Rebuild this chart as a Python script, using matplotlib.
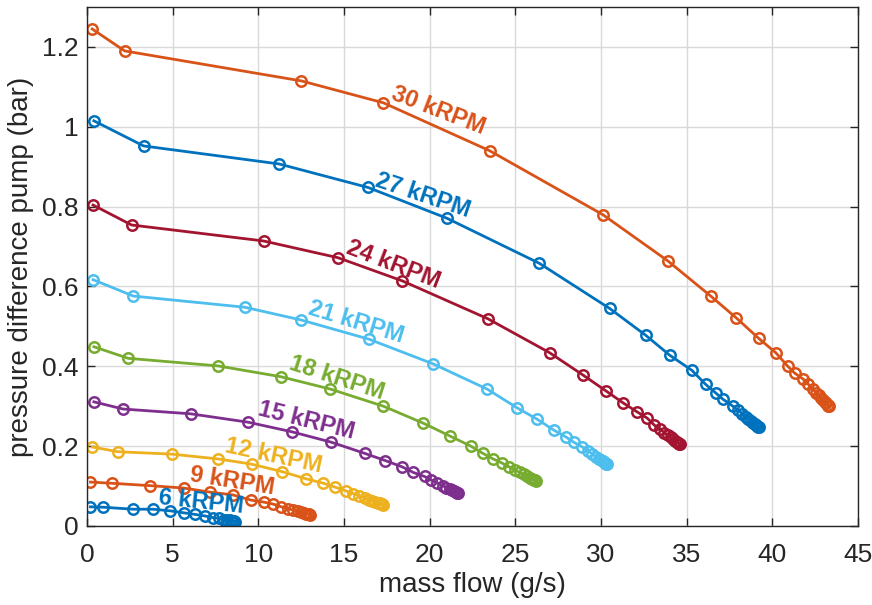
import matplotlib
matplotlib.use("Agg")
import matplotlib.pyplot as plt

plt.rcParams['font.family'] = ['Liberation Sans', 'DejaVu Sans']

# ---- data ----
x30 = [0.3, 2.2, 12.5, 17.3, 23.5, 30.1, 33.9, 36.4, 37.9, 39.2, 40.2, 40.9, 41.3, 41.8, 42.1, 42.35, 42.55, 42.7, 42.85, 42.97, 43.07, 43.15, 43.22, 43.27, 43.3]
y30 = [1.245, 1.19, 1.115, 1.06, 0.94, 0.78, 0.664, 0.576, 0.521, 0.47, 0.434, 0.40, 0.383, 0.368, 0.355, 0.343, 0.334, 0.327, 0.320, 0.315, 0.310, 0.307, 0.304, 0.301, 0.300]

x27 = [0.4, 3.3, 11.2, 16.4, 21.0, 26.4, 30.5, 32.6, 34.0, 35.3, 36.1, 36.7, 37.1, 37.7, 38.0, 38.25, 38.45, 38.6, 38.75, 38.88, 38.98, 39.06, 39.13, 39.18, 39.22]
y27 = [1.015, 0.952, 0.907, 0.848, 0.771, 0.658, 0.545, 0.478, 0.428, 0.39, 0.355, 0.333, 0.318, 0.300, 0.290, 0.281, 0.274, 0.269, 0.264, 0.259, 0.256, 0.253, 0.251, 0.249, 0.247]

x24 = [0.35, 2.6, 10.3, 14.65, 18.4, 23.4, 27.0, 28.95, 30.3, 31.3, 32.1, 32.7, 33.1, 33.45, 33.7, 33.9, 34.06, 34.2, 34.32, 34.42, 34.5, 34.56, 34.61]
y24 = [0.804, 0.754, 0.714, 0.672, 0.614, 0.519, 0.434, 0.378, 0.338, 0.308, 0.286, 0.27, 0.253, 0.242, 0.234, 0.227, 0.222, 0.218, 0.214, 0.211, 0.208, 0.206, 0.205]

x21 = [0.35, 2.7, 9.2, 12.5, 16.45, 20.2, 23.35, 25.1, 26.25, 27.25, 27.95, 28.4, 28.9, 29.25, 29.5, 29.7, 29.87, 30.0, 30.1, 30.18, 30.25, 30.3, 30.35]
y21 = [0.617, 0.576, 0.548, 0.516, 0.468, 0.406, 0.343, 0.296, 0.268, 0.24, 0.223, 0.21, 0.198, 0.188, 0.180, 0.174, 0.169, 0.165, 0.162, 0.160, 0.158, 0.156, 0.155]

x18 = [0.4, 2.4, 7.65, 11.3, 14.2, 17.3, 19.6, 21.2, 22.4, 23.1, 23.7, 24.2, 24.6, 24.95, 25.25, 25.5, 25.7, 25.85, 25.98, 26.08, 26.15, 26.2]
y18 = [0.449, 0.42, 0.401, 0.374, 0.343, 0.30, 0.258, 0.225, 0.2, 0.182, 0.168, 0.158, 0.149, 0.141, 0.134, 0.129, 0.124, 0.121, 0.118, 0.116, 0.114, 0.113]

x15 = [0.4, 2.1, 6.05, 9.4, 11.95, 14.25, 16.2, 17.4, 18.4, 19.05, 19.7, 20.1, 20.45, 20.75, 20.98, 21.17, 21.32, 21.44, 21.53, 21.6, 21.65]
y15 = [0.311, 0.293, 0.281, 0.26, 0.236, 0.21, 0.182, 0.164, 0.148, 0.134, 0.124, 0.115, 0.108, 0.101, 0.096, 0.092, 0.089, 0.087, 0.085, 0.083, 0.082]

x12 = [0.3, 1.8, 4.95, 7.65, 9.6, 11.4, 12.8, 13.8, 14.5, 15.1, 15.55, 15.9, 16.2, 16.45, 16.65, 16.82, 16.96, 17.07, 17.16, 17.23, 17.3]
y12 = [0.198, 0.186, 0.18, 0.168, 0.155, 0.136, 0.118, 0.107, 0.097, 0.088, 0.081, 0.075, 0.070, 0.066, 0.063, 0.061, 0.058, 0.057, 0.055, 0.054, 0.053]

x9 = [0.2, 1.45, 3.7, 5.65, 7.15, 8.5, 9.55, 10.3, 10.85, 11.35, 11.75, 12.05, 12.3, 12.5, 12.66, 12.78, 12.88, 12.95, 13.0]
y9 = [0.11, 0.107, 0.101, 0.095, 0.085, 0.078, 0.065, 0.06, 0.055, 0.048, 0.043, 0.040, 0.037, 0.034, 0.032, 0.031, 0.030, 0.029, 0.028]

x6 = [0.2, 0.95, 2.7, 3.85, 4.85, 5.65, 6.3, 6.9, 7.35, 7.7, 7.97, 8.17, 8.33, 8.45, 8.54, 8.6, 8.65]
y6 = [0.048, 0.047, 0.042, 0.042, 0.038, 0.033, 0.029, 0.025, 0.021, 0.019, 0.016, 0.015, 0.014, 0.013, 0.012, 0.0115, 0.011]

series_labels = ['30 kRPM', '27 kRPM', '24 kRPM', '21 kRPM', '18 kRPM', '15 kRPM', '12 kRPM', '9 kRPM', '6 kRPM']
series_x = [x30, x27, x24, x21, x18, x15, x12, x9, x6]
series_y = [y30, y27, y24, y21, y18, y15, y12, y9, y6]
label_x = [20.5, 19.6, 17.9, 15.7, 14.6, 12.8, 10.9, 8.45, 6.65]
label_y = [1.040, 0.827, 0.654, 0.511, 0.371, 0.263, 0.176, 0.113, 0.060]

x_ticks = [0, 5, 10, 15, 20, 25, 30, 35, 40, 45]
y_ticks = [0, 0.2, 0.4, 0.6, 0.8, 1.0, 1.2]
y_ticklabels = ['0', '0.2', '0.4', '0.6', '0.8', '1', '1.2']

# ---- style ----
colors = ['#D95319', '#0072BD', '#A2142F', '#4DBEEE', '#77AC30', '#7E2F8E', '#EDB120', '#D95319', '#0072BD']
label_rot = [-21, -18.5, -21, -17, -18, -14, -12, -9, -6]

fig = plt.figure(figsize=(8.72, 6.05), dpi=100)
ax = fig.add_axes([0.0998, 0.1306, 0.8842, 0.8578])

for xs, ys, c in zip(series_x, series_y, colors):
    ax.plot(xs, ys, '-o', color=c, lw=2.0, ms=7.5, mfc='none', mec=c, mew=1.8)

for lab, lx, ly, c, r in zip(series_labels, label_x, label_y, colors, label_rot):
    ax.text(lx, ly, lab, color=c, fontsize=17, fontweight='bold', rotation=r,
            ha='center', va='center', rotation_mode='anchor')

ax.set_xlim(0, 45)
ax.set_ylim(0, 1.3)
ax.set_xticks(x_ticks)
ax.set_yticks(y_ticks)
ax.set_yticklabels(y_ticklabels)
ax.grid(True, color='#d9d9d9', lw=1.0)
ax.set_axisbelow(True)
ax.tick_params(direction='in', top=True, right=True, length=6, width=1.0,
               colors='#262626', labelsize=19)
ax.tick_params(axis='x', pad=12)
ax.tick_params(axis='y', pad=6)
for s in ax.spines.values():
    s.set_color('#262626')
    s.set_linewidth(1.0)
ax.set_xlabel('mass flow (g/s)', fontsize=20, color='#262626', labelpad=4)
ax.set_ylabel('pressure difference pump (bar)', fontsize=20, color='#262626', labelpad=6)

fig.savefig('out.png', dpi=100)
